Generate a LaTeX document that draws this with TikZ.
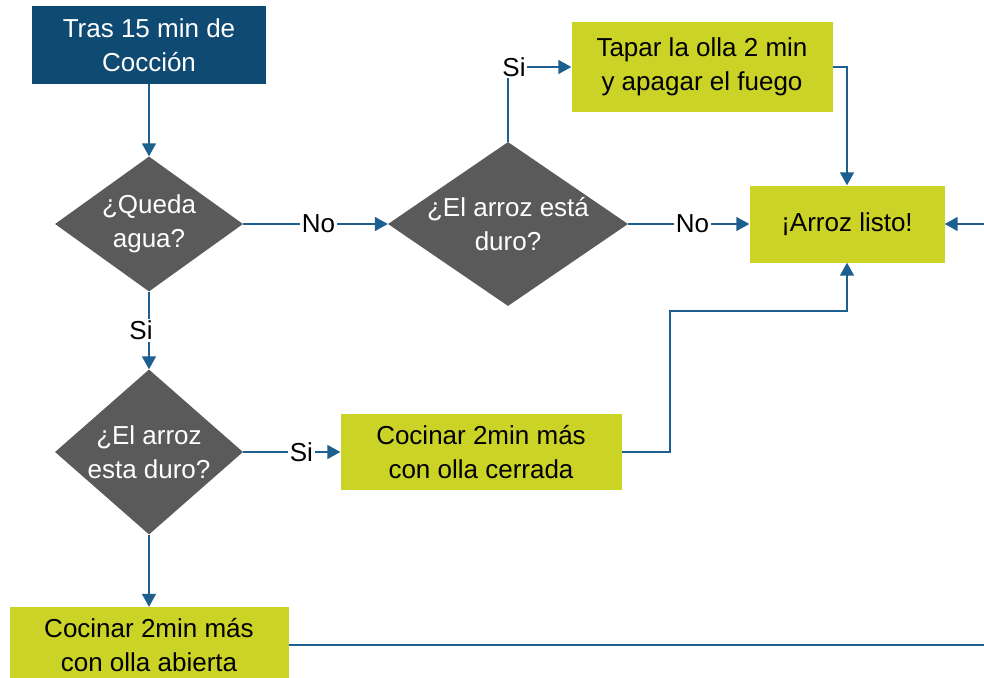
\documentclass[tikz,border=0pt]{standalone}
\usepackage{fontspec}
\setmainfont{Liberation Sans}
\usetikzlibrary{shapes.geometric,arrows.meta}
\definecolor{startblue}{HTML}{0F4A72}
\definecolor{lime}{HTML}{CBD327}
\definecolor{dgray}{HTML}{5A5A5A}
\definecolor{linec}{HTML}{1D5F8E}
\begin{document}
\begin{tikzpicture}[x=1pt,y=-1pt,
  every node/.style={font=\fontsize{26}{34}\selectfont},
  startbox/.style={rectangle,fill=startblue,text=white,align=center,inner sep=0pt},
  limebox/.style={rectangle,fill=lime,text=black,align=center,inner sep=0pt},
  decision/.style={diamond,fill=dgray,inner sep=0pt},
  dtext/.style={label={[text=white,align=center]center:#1}},
  conn/.style={draw=linec,line width=1.5pt},
  arr/.style={conn,-{Triangle[width=14pt,length=13pt]}},
  lbl/.style={fill=white,text=black,inner sep=1.5pt}]
\useasboundingbox (0,0) rectangle (984,677);
\node[startbox,minimum width=234pt,minimum height=77pt] (start) at (149,45) {Tras 15 min de\\Cocción};
\node[decision,minimum width=188pt,minimum height=135pt,dtext={¿Queda\\agua?}] (d1) at (149,224) {};
\node[decision,minimum width=240pt,minimum height=164pt,dtext={¿El arroz está\\duro?}] (d2) at (508,224) {};
\node[decision,minimum width=188pt,minimum height=165pt,dtext={¿El arroz\\esta duro?}] (d3) at (149,452) {};
\node[limebox,minimum width=261pt,minimum height=89pt] (tapar) at (702,67) {Tapar la olla 2 min\\y apagar el fuego};
\node[limebox,minimum width=195pt,minimum height=77pt] (listo) at (847,224) {¡Arroz listo!};
\node[limebox,minimum width=281pt,minimum height=76pt] (cerrada) at (481,452) {Cocinar 2min más\\con olla cerrada};
\node[limebox,minimum width=279pt,minimum height=76pt] (abierta) at (149,645) {Cocinar 2min más\\con olla abierta};
\coordinate (rA) at (990,224);
\coordinate (rB) at (990,645);
\coordinate (j1) at (670,311);

\draw[arr] (start.south) -- (d1.north);
\draw[arr] (d1.east) -- node[lbl,pos=0.52]{No} (d2.west);
\draw[arr] (d2.east) -- node[lbl,pos=0.53]{No} (listo.west);
\draw[arr] (d2.north) |- node[lbl,pos=0.5,xshift=6pt]{Si} (tapar.west);
\draw[arr] (tapar.east) -| (listo.north);
\draw[arr] (rA) -- (listo.east);
\draw[arr] (d1.south) -- node[lbl,pos=0.5,xshift=-8pt]{Si} (d3.north);
\draw[arr] (d3.east) -- node[lbl,pos=0.6]{Si} (cerrada.west);
\draw[arr] (cerrada.east) -| (j1) -| (listo.south);
\draw[arr] (d3.south) -- (abierta.north);
\draw[conn] (abierta.east) -- (rB);
\end{tikzpicture}
\end{document}
